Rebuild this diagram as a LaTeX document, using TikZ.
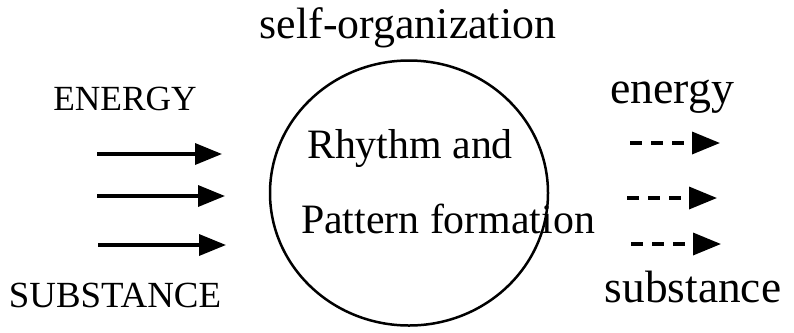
\documentclass[tikz,border=0pt]{standalone}
\usepackage{fontspec}
\setmainfont{Liberation Serif}
\usetikzlibrary{arrows.meta,shapes.geometric}

\begin{document}
\begin{tikzpicture}[
      x=1bp, y=-1bp,
      cell_style/.style={draw, ellipse, line width=2.5bp, minimum width=278bp, minimum height=265bp, inner sep=0pt},
      inflow_style/.style={line width=3.5bp, -{Triangle[length=27bp, width=21bp]}},
      outflow_style/.style={line width=3.5bp, dash pattern=on 12bp off 9bp, -{Triangle[length=28bp, width=22bp]}},
      label_style/.style={anchor=base, inner sep=0pt, font=\fontsize{#1}{#1}\selectfont}
  ]
      \useasboundingbox (0,0) rectangle (794,332);

      \node[cell_style] (cell) at (409,193) {};

      \node[label_style=44] (selforg) at (408,38) {self-organization};
      \node[label_style=42] (rhythm) at (410,158) {Rhythm and};
      \node[label_style=42] (pattern) at (448,233) {Pattern formation};

      \node[label_style=35.5] (energyin) at (125,110) {ENERGY};
      \node[label_style=37] (substin) at (115,307) {SUBSTANCE};
      \node[label_style=46] (energyout) at (672,103) {energy};
      \node[label_style=45.5] (substout) at (693,302) {substance};

      % incoming flows
      \coordinate (in1a) at (97,154);  \coordinate (in1b) at (222,154);
      \coordinate (in2a) at (97,196);  \coordinate (in2b) at (225,196);
      \coordinate (in3a) at (98,245);  \coordinate (in3b) at (226,245);
      \draw[inflow_style] (in1a) -- (in1b);
      \draw[inflow_style] (in2a) -- (in2b);
      \draw[inflow_style] (in3a) -- (in3b);

      % outgoing flows
      \coordinate (out1a) at (630,143);  \coordinate (out1b) at (720,143);
      \coordinate (out2a) at (627,198);  \coordinate (out2b) at (717,198);
      \coordinate (out3a) at (631,244);  \coordinate (out3b) at (721,244);
      \draw[outflow_style] (out1a) -- (out1b);
      \draw[outflow_style] (out2a) -- (out2b);
      \draw[outflow_style] (out3a) -- (out3b);
  \end{tikzpicture}
\end{document}
